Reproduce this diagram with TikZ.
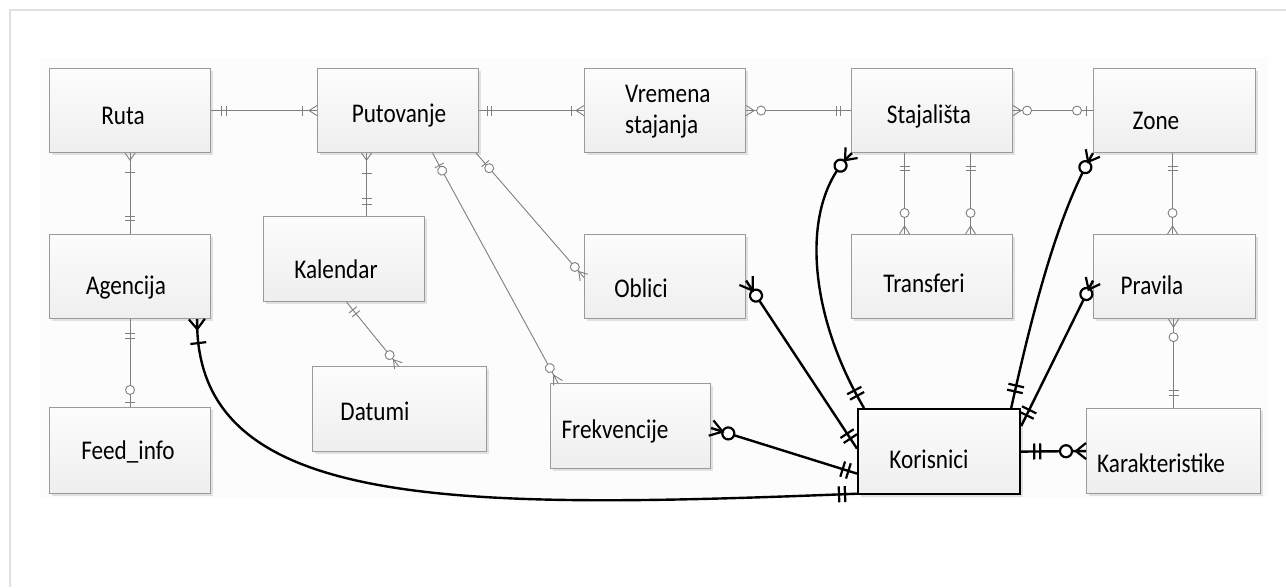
\documentclass[tikz,border=0pt]{standalone}
\usepackage{fontspec}
\setmainfont{Carlito}
\usetikzlibrary{decorations.markings,shadows,calc}
\definecolor{lgray}{HTML}{7F7F7F}
\definecolor{bgray}{HTML}{9A9A9A}
\newcommand\sq[1]{\scalebox{0.86}[1]{#1}}
\tikzset{
  box/.style={draw=bgray, line width=1.1pt, top color=gray!2, bottom color=gray!13,
    anchor=north west, inner sep=0pt, minimum width=161pt, minimum height=84pt,
    drop shadow={shadow xshift=2.5pt,shadow yshift=-2.5pt,fill=black!22}},
  lbl/.style={anchor=base, font=\fontsize{27}{31}\selectfont, inner sep=0pt, text=black},
  thinc/.style={draw=lgray, line width=0.9pt, mk/.style={draw=lgray,line width=0.9pt},
    /utils/exec={\def\mh{5pt}\def\mr{4.5pt}\def\mw{5pt}}},
  thickc/.style={draw=black, line width=2.4pt, mk/.style={draw=black,line width=2.2pt},
    /utils/exec={\def\mh{8pt}\def\mr{6pt}\def\mw{8pt}}},
  bar/.style={postaction={decorate,decoration={markings,
    mark=at position #1 with {\draw[mk] (0pt,-\mh) -- (0pt,\mh);}}}},
  circ/.style={postaction={decorate,decoration={markings,
    mark=at position #1 with {\draw[mk,fill=white] (0pt,0pt) circle[radius=\mr];}}}},
  crowS/.style={postaction={decorate,decoration={markings,
    mark=at position #1 with {\draw[mk] (-#1,\mw) -- (0pt,0pt) -- (-#1,-\mw);}}}},
  crowE/.style={postaction={decorate,decoration={markings,
    mark=at position -#1 with {\draw[mk] (#1,\mw) -- (0pt,0pt) -- (#1,-\mw);}}}},
}
\begin{document}
\begin{tikzpicture}[x=1pt,y=-1pt]
\useasboundingbox (0,0) rectangle (1286,587);
\fill[white] (0,0) rectangle (1286,587);
\fill[gray!2] (40,58) rectangle (1268,498);
\draw[black!12, line width=2pt] (10,587) -- (10,10) -- (1286,10);

% boxes
\node[box] (ruta) at (49,68) {};
\node[box] (putovanje) at (317,68) {};
\node[box] (vremena) at (584,68) {};
\node[box] (stajalista) at (851,68) {};
\node[box, minimum width=162pt] (zone) at (1093,68) {};
\node[box] (agencija) at (49,234) {};
\node[box, minimum height=85pt] (kalendar) at (263,216) {};
\node[box] (oblici) at (584,234) {};
\node[box] (transferi) at (851,234) {};
\node[box, minimum width=162pt] (pravila) at (1093,234) {};
\node[box, minimum height=86pt] (feed) at (49,407) {};
\node[box, minimum width=174pt, minimum height=85pt] (datumi) at (312,366) {};
\node[box, minimum width=160pt, minimum height=85pt] (frekvencije) at (550,383) {};
\node[box, draw=black, line width=2.2pt, minimum width=162pt, minimum height=85pt] (korisnici) at (857,408) {};
\node[box, minimum width=174pt, minimum height=85pt] (karakteristike) at (1086,408) {};

% labels
\node[lbl] (t-ruta) at (123,124) {\sq{Ruta}};
\node[lbl] (t-putovanje) at (399,122) {\sq{Putovanje}};
\node[lbl, anchor=base west, align=left] (t-vremena) at (625,133) {\sq{Vremena}\\\sq{stajanja}};
\node[lbl] (t-stajalista) at (929,123) {\sq{Stajališta}};
\node[lbl] (t-zone) at (1156,129) {\sq{Zone}};
\node[lbl] (t-agencija) at (126,294) {\sq{Agencija}};
\node[lbl] (t-kalendar) at (336,278) {\sq{Kalendar}};
\node[lbl] (t-oblici) at (641,297) {\sq{Oblici}};
\node[lbl] (t-transferi) at (924,292) {\sq{Transferi}};
\node[lbl] (t-pravila) at (1152,294) {\sq{Pravila}};
\node[lbl] (t-feed) at (128,459) {\sq{Feed\_info}};
\node[lbl] (t-datumi) at (375,420) {\sq{Datumi}};
\node[lbl] (t-frekvencije) at (615,438) {\sq{Frekvencije}};
\node[lbl] (t-korisnici) at (929,468) {\sq{Korisnici}};
\node[lbl] (t-karakteristike) at (1161,472) {\sq{Karakteristike}};

% thin connectors
\draw[thinc, bar=10pt, bar=15pt, bar=-15pt, crowE=8pt] (ruta.east) -- (putovanje.west);
\draw[thinc, bar=8pt, bar=12pt, bar=-13pt, crowE=8pt] (putovanje.east) -- (vremena.west);
\draw[thinc, crowS=8pt, circ=15pt, bar=-11pt, bar=-15pt] (vremena.east) -- (stajalista.west);
\draw[thinc, crowS=8pt, circ=14pt, circ=-16pt, bar=-7pt] (stajalista.east) -- (zone.west);
\draw[thinc, crowS=7pt, bar=19pt, bar=-14pt, bar=-18pt] (ruta.south) -- (agencija.north);
\draw[thinc, crowS=7pt, bar=20pt, bar=-12pt, bar=-18pt] ([xshift=-31.5pt]putovanje.south) -- ([xshift=22.5pt]kalendar.north);
\draw[thinc, bar=14pt, circ=20pt, circ=-17pt, crowE=9pt] ([xshift=34.5pt]putovanje.south) -- ([xshift=8pt]frekvencije.north west);
\draw[thinc, bar=14pt, circ=20pt, circ=-14pt, crowE=8pt] ([xshift=-3pt]putovanje.south east) -- ([yshift=-1pt]oblici.west);
\draw[thinc, bar=10pt, bar=15pt, circ=-14pt, crowE=8pt] ([xshift=2.5pt]kalendar.south) -- ([xshift=-1pt]datumi.north);
\draw[thinc, bar=13pt, bar=17pt, circ=-21pt, crowE=8pt] ([xshift=-27.5pt]stajalista.south) -- ([xshift=-27.5pt]transferi.north);
\draw[thinc, bar=13pt, bar=17pt, circ=-21pt, crowE=8pt] ([xshift=38.5pt]stajalista.south) -- ([xshift=38.5pt]transferi.north);
\draw[thinc, bar=13pt, bar=17pt, circ=-21pt, crowE=8pt] ([xshift=-2pt]zone.south) -- ([xshift=-2pt]pravila.north);
\draw[thinc, bar=14pt, bar=19pt, circ=-17pt, bar=-5pt] (agencija.south) -- (feed.north);
\draw[thinc, crowS=8pt, circ=18pt, bar=-13pt, bar=-18pt] ([xshift=-1pt]pravila.south) -- ([xshift=0pt]karakteristike.north);

% thick connectors from Korisnici
\draw[thickc, bar=14pt, bar=20pt, circ=-17pt, crowE=10pt] ([xshift=7pt]korisnici.north west) .. controls (806,310) and (800,200) .. ([xshift=1pt]stajalista.south west);
\draw[thickc, bar=17pt, bar=23pt, circ=-16pt, crowE=10pt] ([xshift=-10pt]korisnici.north east) .. controls (1035,300) and (1060,210) .. (zone.south west);
\draw[thickc, bar=12pt, bar=18pt, circ=-15pt, crowE=10pt] ([yshift=-18pt]korisnici.north east) -- ([yshift=-4pt]pravila.west);
\draw[thickc, bar=12pt, bar=18pt, circ=-18pt, crowE=12pt] ([yshift=3pt]korisnici.west) -- ([yshift=-4pt]oblici.east);
\draw[thickc, bar=9pt, bar=15pt, circ=-18pt, crowE=12pt] ([yshift=-22pt]korisnici.west) -- ([yshift=-2pt]frekvencije.east);
\draw[thickc, bar=12pt, bar=18pt, bar=-24pt, crowE=10pt] ([yshift=1.5pt]korisnici.south west) .. controls (450,510) and (195,510) .. ([xshift=-14pt]agencija.south east);
\draw[thickc, bar=13pt, bar=19pt, circ=-20pt, crowE=10pt] (korisnici.east) -- (karakteristike.west);
\end{tikzpicture}
\end{document}
